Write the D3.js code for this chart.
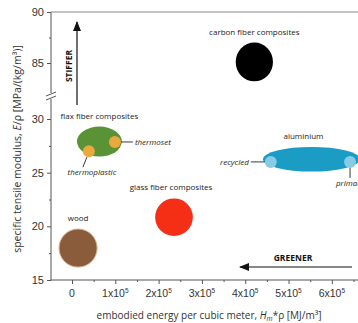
<!DOCTYPE html>
<html>
<head>
<meta charset="utf-8">
<script src="https://cdn.jsdelivr.net/npm/d3@7"></script>
<style>
  body { margin: 0; background: #fff; }
  svg { display: block; font-family: "Open Sans", sans-serif; }
</style>
</head>
<body>
<script>
// material bubbles: ranges of embodied energy (MJ/m3) and specific modulus
const materials = ["wood", "flax fiber composites", "glass fiber composites", "carbon fiber composites", "aluminium"];
const energyMin = [-30000, 11500, 192000, 378000, 441000];
const energyMax = [58000, 115000, 279000, 464000, 665000];
const modulusMin = [16.2, 26.5, 19.1, 83.2, 25.1];
const modulusMax = [19.75, 29.3, 22.6, 87.0, 27.4];
const colors = ["#8a5c3c", "#5a9236", "#f42f16", "#000000", "#1b9cc4"];

// sub-points inside bubbles
const subNames = ["thermoset", "thermoplastic", "recycled", "primary"];
const subEnergy = [99000, 39000, 459000, 642000];
const subModulus = [27.86, 27.0, 26.0, 26.0];
const subColors = ["#eaa93e", "#eaa93e", "#86cce4", "#86cce4"];

const xTicks = [0, 100000, 200000, 300000, 400000, 500000, 600000];
const xMinor = [50000, 150000, 250000, 350000, 450000, 550000, 650000];
const yTicksLow = [15, 20, 25, 30];
const yMinorLow = [17.5, 22.5, 27.5];
const yTicksHigh = [85, 90];
const yMinorHigh = [87.5];

const W = 358, H = 323;
const axisColor = "#555";
const textColor = "#333";

const svg = d3.select("body").append("svg")
  .attr("width", W)
  .attr("height", H);

const x = d3.scaleLinear().domain([-48500, 665000]).range([51, 360]);
const yLow = d3.scaleLinear().domain([15, 30]).range([280, 119]);
const yHigh = d3.scaleLinear().domain([85, 90]).range([63, 12]);
const yOf = v => v >= 50 ? yHigh(v) : yLow(v);

//Axes
const gx = svg.append("g").attr("transform", "translate(0,280)");
gx.call(d3.axisBottom(x).tickValues(xTicks).tickSize(4).tickFormat(""));
gx.append("g").call(d3.axisBottom(x).tickValues(xMinor).tickSize(2).tickFormat(""));
gx.selectAll(".domain").remove();
gx.selectAll("line").attr("stroke", axisColor);

gx.selectAll(".label")
  .data(xTicks)
  .enter()
  .append("text")
  .attr("x", d => x(d))
  .attr("y", 17)
  .attr("text-anchor", "middle")
  .attr("fill", textColor)
  .style("font-size", "10.5px")
  .each(function (d) {
    const t = d3.select(this);
    if (d === 0) { t.text("0"); return; }
    t.append("tspan").text((d / 100000) + "x10");
    t.append("tspan").attr("dy", -4).style("font-size", "6.5px").text("5");
  });

const gy = svg.append("g").attr("transform", "translate(51,0)");
const yAxisParts = [
  [yLow, yTicksLow, yMinorLow],
  [yHigh, yTicksHigh, yMinorHigh]
];
yAxisParts.forEach(([scale, major, minor]) => {
  const a = gy.append("g").call(d3.axisLeft(scale).tickValues(major).tickSize(4).tickFormat(d3.format("d")));
  const b = gy.append("g").call(d3.axisLeft(scale).tickValues(minor).tickSize(2).tickFormat(""));
  a.selectAll(".domain").remove();
  b.selectAll(".domain").remove();
  a.selectAll("line").attr("stroke", axisColor);
  b.selectAll("line").attr("stroke", axisColor);
  a.selectAll("text")
    .attr("fill", textColor)
    .style("font-size", "11px")
    .style("font-family", "'Liberation Sans', Arial, sans-serif");
});

// axis lines with break
svg.append("line").attr("x1", 51).attr("x2", 51).attr("y1", 12).attr("y2", 93)
  .attr("stroke", axisColor);
svg.append("line").attr("x1", 51).attr("x2", 51).attr("y1", 99).attr("y2", 280.5)
  .attr("stroke", axisColor);
[0, 4].forEach(o => {
  svg.append("line")
    .attr("x1", 46).attr("y1", 96 + o)
    .attr("x2", 56).attr("y2", 92 + o)
    .attr("stroke", axisColor);
});
svg.append("line").attr("x1", 51).attr("x2", W).attr("y1", 12).attr("y2", 12).attr("stroke", "#888");
svg.append("line").attr("x1", 50.5).attr("x2", W).attr("y1", 280).attr("y2", 280).attr("stroke", axisColor);

//Axis titles
const xTitle = svg.append("text")
  .attr("x", 209).attr("y", 319)
  .attr("text-anchor", "middle")
  .attr("fill", textColor)
  .style("font-size", "10px");
xTitle.append("tspan").text("embodied energy per cubic meter, ");
xTitle.append("tspan").style("font-style", "italic").text("H");
xTitle.append("tspan").style("font-style", "italic").style("font-size", "7px").attr("dy", 2).text("m");
xTitle.append("tspan").attr("dy", -2).text("*ρ [MJ/m³]");

const yTitle = svg.append("text")
  .attr("transform", "translate(21,149) rotate(-90)")
  .attr("text-anchor", "middle")
  .attr("fill", textColor)
  .style("font-size", "10.5px");
yTitle.append("tspan").text("specific tensile modulus, ");
yTitle.append("tspan").style("font-style", "italic").text("E");
yTitle.append("tspan").text("/ρ [MPa/(kg/m³)]");

//Bubbles
const bubbles = materials.map((name, i) => ({
  name,
  x0: energyMin[i], x1: energyMax[i],
  y0: modulusMin[i], y1: modulusMax[i],
  color: colors[i]
}));

svg.append("g")
  .selectAll("ellipse")
  .data(bubbles)
  .enter()
  .append("ellipse")
  .attr("cx", d => (x(d.x0) + x(d.x1)) / 2)
  .attr("cy", d => (yOf(d.y0) + yOf(d.y1)) / 2)
  .attr("rx", d => (x(d.x1) - x(d.x0)) / 2)
  .attr("ry", d => Math.abs(yOf(d.y0) - yOf(d.y1)) / 2)
  .attr("fill", d => d.color)
  .attr("stroke", d => d.name === "wood" ? "#d8b48e" : "none")
  .attr("stroke-width", 1);

svg.append("g")
  .selectAll("text")
  .data(bubbles)
  .enter()
  .append("text")
  .attr("x", d => (x(d.x0) + x(d.x1)) / 2 + (d.name === "aluminium" ? -8 : d.name === "glass fiber composites" ? -3 : 0))
  .attr("y", d => Math.min(yOf(d.y0), yOf(d.y1)) - 8)
  .attr("text-anchor", "middle")
  .attr("fill", "#222")
  .style("font-size", "8px")
  .text(d => d.name);

//Sub points
const subs = subNames.map((name, i) => ({
  name, cx: x(subEnergy[i]), cy: yOf(subModulus[i]), color: subColors[i]
}));

// leader lines
const leaders = {
  thermoset: [[6, 0], [18, 0]],
  thermoplastic: [[-2, 6], [-6, 16]],
  recycled: [[-6, 0], [-20, 0]],
  primary: [[0, 6], [0, 16]]
};
svg.append("g")
  .selectAll("line")
  .data(subs)
  .enter()
  .append("line")
  .attr("x1", d => d.cx + leaders[d.name][0][0])
  .attr("y1", d => d.cy + leaders[d.name][0][1])
  .attr("x2", d => d.cx + leaders[d.name][1][0])
  .attr("y2", d => d.cy + leaders[d.name][1][1])
  .attr("stroke", "#222")
  .attr("stroke-width", 0.9);

svg.append("g")
  .selectAll("circle")
  .data(subs)
  .enter()
  .append("circle")
  .attr("cx", d => d.cx)
  .attr("cy", d => d.cy)
  .attr("r", 6)
  .attr("fill", d => d.color);

const subLabelPos = {
  thermoset: [20, 3, "start"],
  thermoplastic: [3, 24, "middle"],
  recycled: [-22, 3, "end"],
  primary: [0, 24, "middle"]
};
svg.append("g")
  .selectAll("text")
  .data(subs)
  .enter()
  .append("text")
  .attr("x", d => d.cx + subLabelPos[d.name][0])
  .attr("y", d => d.cy + subLabelPos[d.name][1])
  .attr("text-anchor", d => subLabelPos[d.name][2])
  .attr("fill", "#222")
  .style("font-size", "8px")
  .style("font-style", "italic")
  .text(d => d.name);

//Arrows
const defs = svg.append("defs");
defs.append("marker")
  .attr("id", "head")
  .attr("viewBox", "0 0 10 8")
  .attr("refX", 9).attr("refY", 4)
  .attr("markerWidth", 10).attr("markerHeight", 8)
  .attr("markerUnits", "userSpaceOnUse")
  .attr("orient", "auto")
  .append("path")
  .attr("d", "M0,0 L10,4 L0,8 Z")
  .attr("fill", "#111");

svg.append("line")
  .attr("x1", 77).attr("y1", 105).attr("x2", 77).attr("y2", 22)
  .attr("stroke", "#111").attr("stroke-width", 1.2)
  .attr("marker-end", "url(#head)");
svg.append("text")
  .attr("transform", "translate(72,66) rotate(-90)")
  .attr("text-anchor", "middle")
  .attr("fill", "#111")
  .style("font-size", "8.5px")
  .style("font-weight", "bold")
  .text("STIFFER");

svg.append("line")
  .attr("x1", 352).attr("y1", 267).attr("x2", 240).attr("y2", 267)
  .attr("stroke", "#111").attr("stroke-width", 1.2)
  .attr("marker-end", "url(#head)");
svg.append("text")
  .attr("x", 293).attr("y", 261)
  .attr("text-anchor", "middle")
  .attr("fill", "#111")
  .style("font-size", "8.5px")
  .style("font-weight", "bold")
  .text("GREENER");
</script>
</body>
</html>
